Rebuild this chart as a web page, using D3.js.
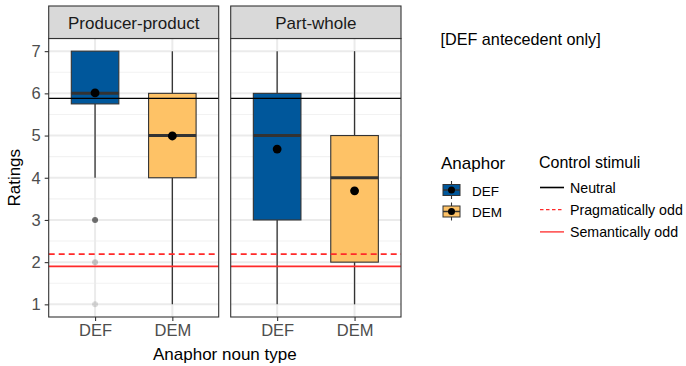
<!DOCTYPE html>
<html><head><meta charset="utf-8">
<script src="https://cdn.jsdelivr.net/npm/d3@7"></script>
<style>body{margin:0;background:#fff;} text{font-family:"Liberation Sans",Arial,sans-serif;}</style>
</head><body><svg id="c" width="686" height="366"></svg>
<script>
// ---- data ----
const panels = ["Producer-product", "Part-whole"];
const categories = ["DEF", "DEM"];
// [panel][category]: lower whisker, q1, median, q3, upper whisker
const whiskerLow = [[4, 1], [1, 1]];
const q1 = [[5.75, 4], [3, 2]];
const medians = [[6, 5], [5, 4]];
const q3 = [[7, 6], [6, 5]];
const whiskerHigh = [[7, 7], [7, 7]];
const means = [[6.01, 4.99], [4.68, 3.69]];
const outlierValues = [[[3, 2, 1], []], [[], []]];
const outlierShade = [[[0.55, 0.2, 0.13], []], [[], []]];
const controlNames = ["Neutral", "Pragmatically odd", "Semantically odd"];
const controlValues = [5.88, 2.19, 1.9];
const yTicks = [1, 2, 3, 4, 5, 6, 7];

const fillColors = {DEF: "#00579b", DEM: "#fec266"};
const controlStyle = {
  "Neutral": {color: "#000", dash: null},
  "Pragmatically odd": {color: "#ff2a2a", dash: "6,4"},
  "Semantically odd": {color: "#ff2a2a", dash: null}
};

const svg = d3.select("#c");
const plotTop = 38.5, plotBottom = 317, stripTop = 6;
const panelX = [[48.7, 218.7], [230.7, 401]];

const y = d3.scaleLinear().domain([0.7, 7.3]).range([plotBottom, plotTop]);
const gray = "#333333";

panels.forEach((p, pi) => {
  const [x0, x1] = panelX[pi];
  const x = d3.scaleLinear().domain([0.4, 2.6]).range([x0, x1]);
  const xc = c => x(categories.indexOf(c) + 1);
  const g = svg.append("g");
  g.append("rect").attr("x", x0).attr("y", plotTop).attr("width", x1 - x0).attr("height", plotBottom - plotTop).attr("fill", "#fff");
  d3.range(1.5, 7, 1).forEach(v => g.append("line").attr("x1", x0).attr("x2", x1).attr("y1", y(v)).attr("y2", y(v)).attr("stroke", "#f2f2f2").attr("stroke-width", 1.1));
  yTicks.forEach(v => g.append("line").attr("x1", x0).attr("x2", x1).attr("y1", y(v)).attr("y2", y(v)).attr("stroke", "#ebebeb").attr("stroke-width", 2));
  categories.forEach(c => g.append("line").attr("x1", xc(c)).attr("x2", xc(c)).attr("y1", plotTop).attr("y2", plotBottom).attr("stroke", "#ebebeb").attr("stroke-width", 2));

  const bw = 0.615;
  categories.forEach((c, ci) => {
    const cx = xc(c);
    const half = (x(1 + bw / 2) - x(1 - bw / 2)) / 2;
    g.append("line").attr("x1", cx).attr("x2", cx).attr("y1", y(q3[pi][ci])).attr("y2", y(whiskerHigh[pi][ci])).attr("stroke", gray).attr("stroke-width", 1.3);
    g.append("line").attr("x1", cx).attr("x2", cx).attr("y1", y(q1[pi][ci])).attr("y2", y(whiskerLow[pi][ci])).attr("stroke", gray).attr("stroke-width", 1.3);
    g.append("rect").attr("x", cx - half).attr("y", y(q3[pi][ci])).attr("width", 2 * half).attr("height", y(q1[pi][ci]) - y(q3[pi][ci]))
      .attr("fill", fillColors[c]).attr("stroke", gray).attr("stroke-width", 1.1);
    g.append("line").attr("x1", cx - half).attr("x2", cx + half).attr("y1", y(medians[pi][ci])).attr("y2", y(medians[pi][ci])).attr("stroke", gray).attr("stroke-width", 3);
    outlierValues[pi][ci].forEach((v, k) => g.append("circle").attr("cx", cx).attr("cy", y(v)).attr("r", 3).attr("fill", "#000").attr("fill-opacity", outlierShade[pi][ci][k]));
  });

  controlNames.forEach((n, k) => {
    const s = controlStyle[n];
    const l = g.append("line").attr("x1", x0).attr("x2", x1).attr("y1", y(controlValues[k])).attr("y2", y(controlValues[k]))
      .attr("stroke", s.color).attr("stroke-width", n === "Neutral" ? 1.3 : 1.6);
    if (s.dash) l.attr("stroke-dasharray", s.dash);
  });

  categories.forEach((c, ci) => g.append("circle").attr("cx", xc(c)).attr("cy", y(means[pi][ci])).attr("r", 4.4).attr("fill", "#000"));

  g.append("rect").attr("x", x0).attr("y", plotTop).attr("width", x1 - x0).attr("height", plotBottom - plotTop).attr("fill", "none").attr("stroke", gray).attr("stroke-width", 1.1);
  g.append("rect").attr("x", x0).attr("y", stripTop).attr("width", x1 - x0).attr("height", plotTop - stripTop).attr("fill", "#d9d9d9").attr("stroke", gray).attr("stroke-width", 1.1);
  g.append("text").attr("x", (x0 + x1) / 2).attr("y", 28.5).attr("text-anchor", "middle").attr("font-size", 17).attr("fill", "#1a1a1a").text(p);

  const xa = d3.axisBottom(d3.scalePoint().domain(categories).range([x(1), x(2)])).tickSize(4).tickPadding(3);
  const ax = svg.append("g").attr("transform", `translate(0,${plotBottom})`).call(xa);
  ax.select(".domain").remove();
  ax.selectAll("line").attr("stroke", gray).attr("stroke-width", 1.1);
  ax.selectAll("text").attr("font-size", 16.5).attr("fill", "#4d4d4d").attr("font-family", "Liberation Sans, Arial, sans-serif");
});

const ya = d3.axisLeft(y).tickValues(yTicks).tickFormat(d3.format("d")).tickSize(4).tickPadding(4);
const ay = svg.append("g").attr("transform", `translate(${panelX[0][0]},0)`).call(ya);
ay.select(".domain").remove();
ay.selectAll("line").attr("stroke", gray).attr("stroke-width", 1.1);
ay.selectAll("text").attr("font-size", 16.5).attr("fill", "#4d4d4d").attr("font-family", "Liberation Sans, Arial, sans-serif");

svg.append("text").attr("x", (panelX[0][0] + panelX[1][1]) / 2).attr("y", 360).attr("text-anchor", "middle").attr("font-size", 17).attr("fill", "#000").text("Anaphor noun type");
svg.append("text").attr("transform", `translate(20,${(plotTop + plotBottom) / 2}) rotate(-90)`).attr("text-anchor", "middle").attr("font-size", 17).attr("fill", "#000").text("Ratings");

svg.append("text").attr("x", 440.5).attr("y", 45).attr("font-size", 16.2).attr("fill", "#000").text("[DEF antecedent only]");

const lg = svg.append("g");
lg.append("text").attr("x", 441).attr("y", 168.5).attr("font-size", 17).attr("fill", "#000").text("Anaphor");
categories.forEach((c, i) => {
  const yy = 190 + i * 21.5;
  lg.append("line").attr("x1", 451.5).attr("x2", 451.5).attr("y1", yy - 9).attr("y2", yy + 9).attr("stroke", gray).attr("stroke-width", 1.1);
  lg.append("rect").attr("x", 443).attr("y", yy - 5.5).attr("width", 17).attr("height", 11).attr("fill", fillColors[c]).attr("stroke", gray).attr("stroke-width", 1);
  lg.append("line").attr("x1", 443).attr("x2", 460).attr("y1", yy).attr("y2", yy).attr("stroke", gray).attr("stroke-width", 1.5);
  lg.append("circle").attr("cx", 451.5).attr("cy", yy).attr("r", 3.5).attr("fill", "#000");
  lg.append("text").attr("x", 472).attr("y", yy + 5.5).attr("font-size", 13.5).attr("fill", "#000").text(c);
});

lg.append("text").attr("x", 539).attr("y", 167.5).attr("font-size", 16).attr("fill", "#000").text("Control stimuli");
controlNames.forEach((n, i) => {
  const yy = 187.5 + i * 22.2;
  const s = controlStyle[n];
  const l = lg.append("line").attr("x1", 540).attr("x2", 564).attr("y1", yy).attr("y2", yy).attr("stroke", s.color).attr("stroke-width", n === "Neutral" ? 1.6 : 1.3);
  if (s.dash) l.attr("stroke-dasharray", "3.5,2.5");
  lg.append("text").attr("x", 570).attr("y", yy + 5).attr("font-size", 14.2).attr("fill", "#000").text(n);
});
</script></body></html>
